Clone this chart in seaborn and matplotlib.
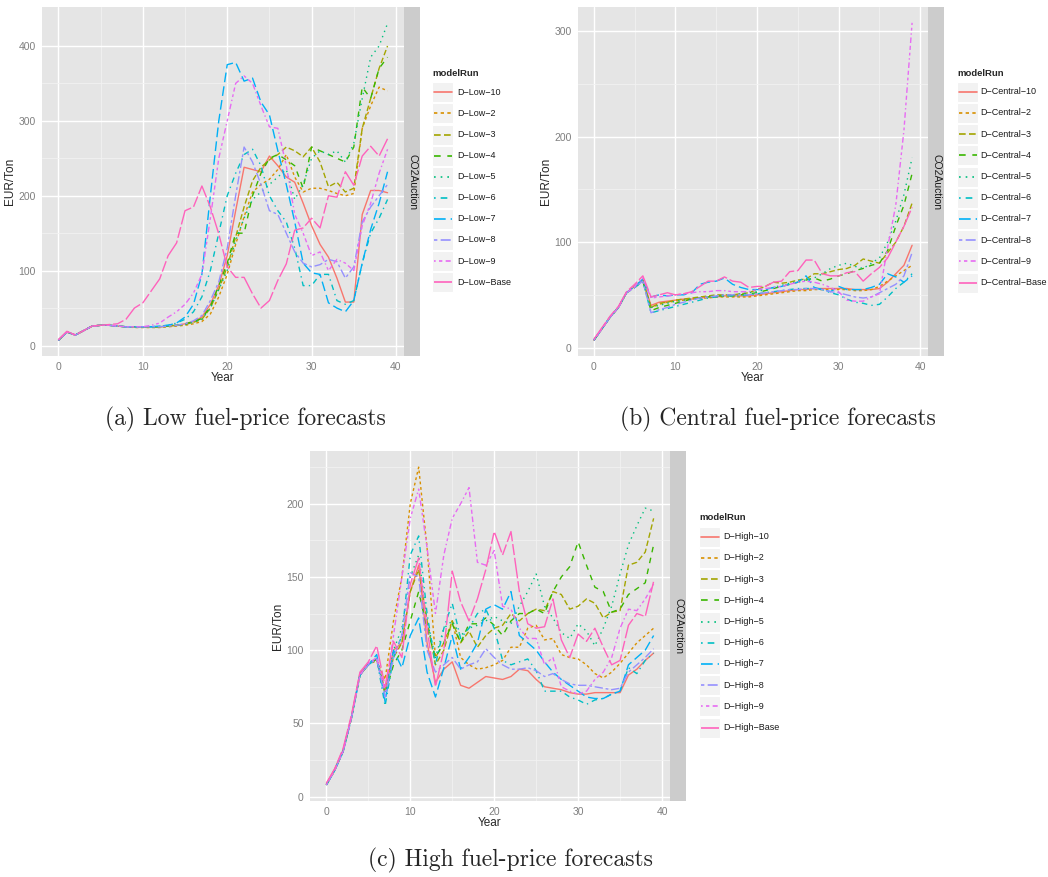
import matplotlib
matplotlib.use('Agg')
import pandas as pd
import matplotlib.pyplot as plt
import seaborn as sns
from matplotlib.patches import Rectangle
from matplotlib.lines import Line2D

sns.set_style('white')
plt.rcParams['font.family'] = ['Liberation Sans', 'DejaVu Sans']

years = list(range(40))
run_names = ['10', '2', '3', '4', '5', '6', '7', '8', '9', 'Base']

# --- (a) Low fuel-price forecasts ---
low_10 = [7,18,14,20,26,27,27,26,25,25,25,25,25,26,27,29,32,38,55,80,120,180,238,235,232,253,240,225,218,190,160,135,118,90,58,58,175,207,207,204]
low_2 = [7,18,14,20,26,27,27,26,25,24,24,24,24,25,26,27,29,32,42,65,95,135,172,205,215,222,235,255,225,205,210,210,207,203,200,203,290,320,345,340]
low_3 = [7,18,14,20,26,27,27,26,25,25,25,25,25,26,27,28,31,35,50,75,105,145,185,220,238,248,255,265,260,252,265,245,212,218,205,210,290,330,370,400]
low_4 = [7,18,14,20,26,27,27,26,25,25,25,25,25,26,27,29,32,36,52,80,110,150,150,200,230,250,255,248,240,210,265,260,255,250,245,265,345,330,370,385]
low_5 = [7,18,14,20,26,27,27,26,25,25,25,25,25,26,27,28,31,35,50,75,100,140,170,195,205,215,225,235,195,215,250,260,255,260,245,270,330,385,400,430]
low_6 = [7,18,14,20,26,27,27,26,25,25,25,25,26,27,30,35,45,65,100,150,200,230,255,262,240,200,180,165,130,80,80,95,95,60,55,60,110,150,170,195]
low_7 = [7,18,14,20,26,27,27,26,25,25,25,25,26,27,30,38,55,95,200,300,375,378,353,357,325,308,260,215,165,110,97,95,57,50,45,60,110,155,190,232]
low_8 = [7,18,14,20,26,27,27,26,25,25,25,25,25,26,27,29,33,40,60,85,130,200,265,245,215,180,175,150,125,110,105,108,115,112,90,105,165,185,200,215]
low_9 = [7,18,14,20,26,27,27,26,25,25,25,27,30,38,45,55,70,95,170,250,300,350,360,350,320,292,290,240,175,150,120,125,100,115,110,100,160,190,230,262]
low_base = [8,19,14,20,26,27,28,29,35,50,57,73,89,120,137,180,185,213,185,149,105,91,91,69,50,60,87,109,154,157,170,157,200,198,232,214,253,266,253,276]

# --- (b) Central fuel-price forecasts ---
central_10 = [7,18,29,38,52,58,64,40,43,44,45,46,46,47,48,48,49,49,49,49,50,51,52,53,54,55,55,56,56,56,56,56,55,55,55,56,62,70,78,97]
central_2 = [7,18,29,38,52,58,64,38,41,43,44,45,46,47,47,48,48,48,48,48,49,50,51,52,53,54,54,55,55,55,55,55,54,54,55,58,63,68,73,78]
central_3 = [7,18,29,38,52,58,64,38,42,43,45,46,47,48,49,50,50,50,51,52,55,58,62,61,62,64,65,70,70,72,74,75,78,84,82,80,90,100,115,137]
central_4 = [7,18,29,38,52,57,63,35,38,40,42,44,46,47,48,49,49,49,50,51,52,54,56,58,60,62,64,66,63,65,68,70,73,75,78,80,92,115,135,165]
central_5 = [7,18,29,38,52,57,63,38,40,42,44,45,46,47,48,49,50,50,51,52,53,55,57,59,61,63,64,66,70,75,78,80,77,75,80,85,100,120,145,180]
central_6 = [7,18,29,38,52,57,63,33,35,37,39,41,43,45,47,48,49,49,49,50,51,52,53,54,55,56,56,56,55,52,50,46,43,42,40,41,48,56,62,70]
central_7 = [7,18,29,38,52,58,65,48,50,49,50,50,52,60,62,63,66,60,57,55,55,55,57,58,60,62,68,57,55,53,58,55,55,55,57,60,70,67,62,68]
central_8 = [7,18,29,38,52,57,63,33,36,38,41,43,45,47,48,49,50,50,50,50,51,52,53,54,55,55,56,56,55,53,52,50,48,47,48,52,56,60,68,90]
central_9 = [7,18,29,38,52,58,66,47,48,49,50,51,52,53,53,54,54,53,53,53,55,56,57,58,60,62,63,62,60,57,53,45,44,44,48,51,95,135,206,308]
central_base = [8,19,30,39,53,60,68,48,50,52,50,51,53,58,63,63,67,63,62,57,58,58,62,63,72,73,83,83,70,68,68,71,72,63,70,76,85,100,115,133]

# --- (c) High fuel-price forecasts ---
high_10 = [9,19,32,55,84,91,94,72,100,105,140,158,105,78,87,92,76,74,78,82,81,80,82,87,86,80,75,74,73,71,70,70,71,71,71,71,83,87,93,98]
high_2 = [8,18,31,54,83,90,93,80,120,150,200,225,170,95,105,120,95,90,87,88,90,93,102,102,115,117,107,108,97,95,94,90,84,81,85,91,98,105,110,115]
high_3 = [8,18,31,54,83,90,94,72,95,105,140,155,120,90,100,120,105,113,102,110,115,117,125,120,125,128,127,140,138,128,130,135,132,122,126,127,158,160,167,190]
high_4 = [8,18,31,54,83,90,94,70,90,100,120,140,115,95,105,118,105,118,118,122,117,110,120,125,125,128,125,140,150,157,174,158,143,140,126,128,138,142,146,172]
high_5 = [8,18,31,54,83,90,94,70,100,115,150,165,120,95,115,120,110,115,117,120,123,120,118,130,140,152,130,122,112,108,118,113,103,115,130,152,172,185,197,195]
high_6 = [8,18,31,54,83,90,94,62,95,110,165,178,125,90,115,132,108,115,125,128,115,93,90,92,94,86,72,72,72,68,66,63,66,67,70,72,88,84,93,98]
high_7 = [8,18,31,54,83,90,97,65,100,88,110,122,85,68,88,110,87,95,105,128,131,128,140,110,105,100,92,85,80,76,72,68,67,67,70,72,90,95,100,110]
high_8 = [8,18,31,54,83,90,94,68,95,110,153,150,100,85,90,95,87,90,92,101,95,90,87,87,88,86,82,84,80,77,76,76,75,74,73,74,85,90,95,101]
high_9 = [8,18,31,54,83,91,95,72,110,150,190,210,170,125,165,190,200,211,160,158,168,130,128,115,108,108,90,95,75,72,70,72,80,85,95,115,128,127,135,145]
high_base = [9,19,33,56,85,92,103,75,106,95,145,163,115,75,100,154,133,120,135,155,181,165,181,140,118,115,116,135,107,95,111,106,115,102,90,93,117,125,123,147]

low_runs = [low_10, low_2, low_3, low_4, low_5, low_6, low_7, low_8, low_9, low_base]
central_runs = [central_10, central_2, central_3, central_4, central_5,
                central_6, central_7, central_8, central_9, central_base]
high_runs = [high_10, high_2, high_3, high_4, high_5, high_6, high_7, high_8, high_9, high_base]

# ggplot2 default hue palette and linetypes for 10 levels
colors = ['#F8766D', '#D89000', '#A3A500', '#39B600', '#00BF7D',
          '#00BFC4', '#00B0F6', '#9590FF', '#E76BF3', '#FF62BC']
linetypes = ['', (2, 2), (4, 2), (4, 4), (1, 3), (1, 3, 4, 3), (7, 3),
             (2, 2, 6, 2), (1, 2, 2, 2, 3, 2, 4, 2), (15, 2, 8, 2)]

W, H = 1048, 877
LW = 1.0
GREY = '#7F7F7F'


def px_rect(x0, y0, x1, y1):
    return [x0 / W, 1 - y1 / H, (x1 - x0) / W, (y1 - y0) / H]


def plot_panel(fig, rect, strip_w, prefix, runs, ylim, yticks, yminor):
    labels = ['D-{}-{}'.format(prefix, r) for r in run_names]
    rows = []
    for lab, vals in zip(labels, runs):
        for yr, v in zip(years, vals):
            rows.append({'Year': yr, 'value': v, 'modelRun': lab})
    df = pd.DataFrame(rows)

    ax = fig.add_axes(px_rect(*rect))
    ax.set_facecolor('#E5E5E5')
    sns.lineplot(data=df, x='Year', y='value', hue='modelRun', style='modelRun',
                 palette=dict(zip(labels, colors)), dashes=dict(zip(labels, linetypes)),
                 estimator=None, sort=False, legend=False, linewidth=LW, ax=ax)
    ax.set_xlim(-1.95, 40.95)
    ax.set_ylim(*ylim)
    ax.set_xticks([0, 10, 20, 30, 40])
    ax.set_xticks([5, 15, 25, 35], minor=True)
    ax.set_yticks(yticks)
    ax.set_yticks(yminor, minor=True)
    ax.grid(which='major', color='white', linewidth=1.0)
    ax.grid(which='minor', color='#F2F2F2', linewidth=0.6)
    ax.set_axisbelow(True)
    for s in ax.spines.values():
        s.set_visible(False)
    ax.tick_params(which='major', length=3, width=0.6, color=GREY, labelcolor=GREY,
                   labelsize=7.5, pad=1.5)
    ax.tick_params(which='minor', length=0)
    ax.set_xlabel('Year', fontsize=8.5, labelpad=0)
    ax.set_ylabel('EUR/Ton', fontsize=8.5, labelpad=2)

    x0, y0, x1, y1 = rect
    sax = fig.add_axes(px_rect(x1, y0, x1 + strip_w, y1))
    sax.set_facecolor('#CCCCCC')
    sax.set_xticks([])
    sax.set_yticks([])
    for s in sax.spines.values():
        s.set_visible(False)
    sax.text(0.5, 0.5, 'CO2Auction', rotation=-90, ha='center', va='center',
             fontsize=7.5, color='#1A1A1A', transform=sax.transAxes)
    return labels


def draw_legend(ov, labels, x0, ty, ry0, step, tx):
    ov.text(x0, ty, 'modelRun', fontsize=6.8, fontweight='bold', va='center', ha='left')
    for i, lab in enumerate(labels):
        yc = ry0 + i * step
        ov.add_patch(Rectangle((x0, yc - 10), 21, 20, facecolor='#F2F2F2',
                               edgecolor='white', linewidth=0.8))
        ln = Line2D([x0 + 1.5, x0 + 19.5], [yc, yc], color=colors[i], linewidth=1.2)
        if linetypes[i]:
            ln.set_dashes(linetypes[i])
        ov.add_line(ln)
        ov.text(tx, yc, lab.replace('-', '\u2212'), fontsize=6.5, va='center', ha='left',
                color='#1A1A1A')


fig = plt.figure(figsize=(W / 100, H / 100), dpi=100)

lab_a = plot_panel(fig, (42, 7, 404, 356), 16, 'Low', low_runs,
                   (-14, 452), [0, 100, 200, 300, 400], [50, 150, 250, 350])
lab_b = plot_panel(fig, (578, 7, 928, 356), 16, 'Central', central_runs,
                   (-8, 323), [0, 100, 200, 300], [50, 150, 250])
lab_c = plot_panel(fig, (310, 451, 670, 801), 16, 'High', high_runs,
                   (-3, 236), [0, 50, 100, 150, 200], [25, 75, 125, 175, 225])

ov = fig.add_axes([0, 0, 1, 1], zorder=10)
ov.set_xlim(0, W)
ov.set_ylim(H, 0)
ov.axis('off')
ov.patch.set_alpha(0)

draw_legend(ov, lab_a, 432, 73, 92.3, 21.1, 457)
draw_legend(ov, lab_b, 957, 73, 91.7, 21.2, 980)
draw_legend(ov, lab_c, 699, 518, 536.7, 21.2, 723)

cap = dict(fontsize=17, family='cmr10', ha='center', va='center')
ov.text(245, 419, '(a) Low fuel-price forecasts', **cap)
ov.text(778, 419, '(b) Central fuel-price forecasts', **cap)
ov.text(510, 860, '(c) High fuel-price forecasts', **cap)

fig.savefig('out.png', dpi=100, facecolor='white')
